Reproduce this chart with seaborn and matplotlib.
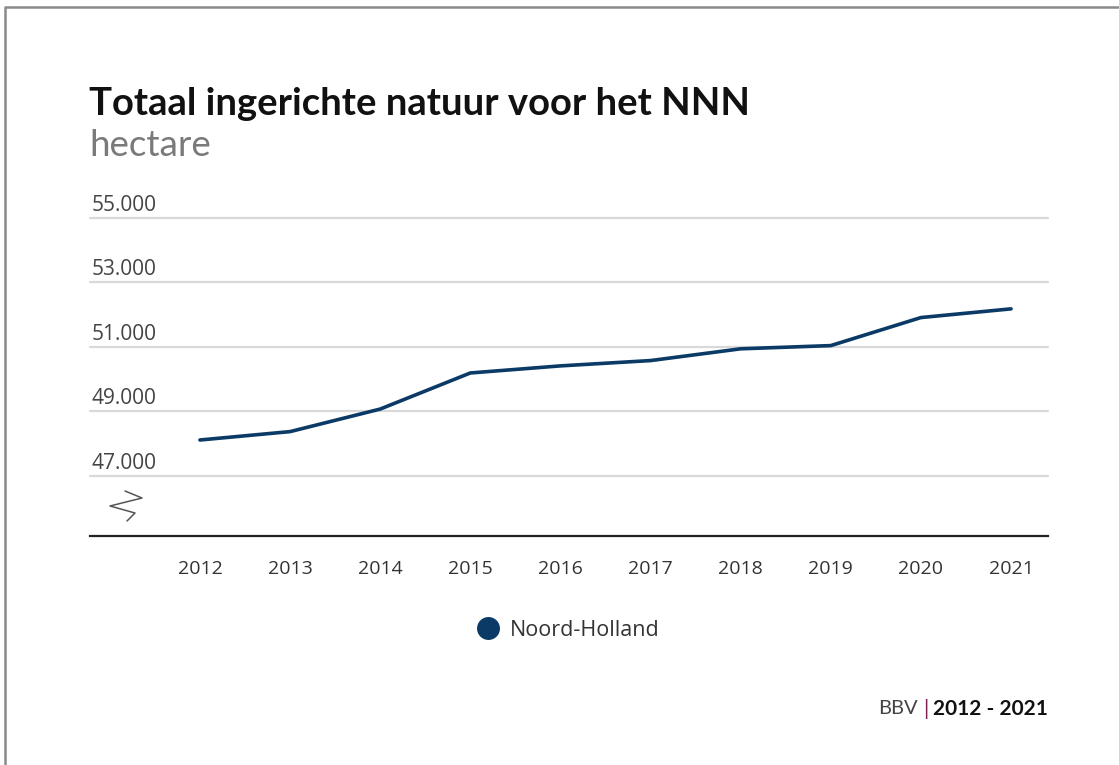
import seaborn as sns
import matplotlib.pyplot as plt
import pandas as pd
from matplotlib.lines import Line2D

# data
years = [2012, 2013, 2014, 2015, 2016, 2017, 2018, 2019, 2020, 2021]
hectare = [48110, 48370, 49070, 50190, 50410, 50575, 50940, 51040, 51910, 52180]
region = "Noord-Holland"
y_ticks = [47000, 49000, 51000, 53000, 55000]

df = pd.DataFrame({"jaar": years, "hectare": hectare})

navy = "#0b3a66"

sns.set_style("white")
plt.rcParams["font.family"] = ["Open Sans", "DejaVu Sans"]

fig = plt.figure(figsize=(11.19, 7.65), dpi=100)
ax = fig.add_axes([90 / 1119, 1 - 536 / 765, (1048 - 90) / 1119, (536 - 218) / 765])

sns.lineplot(data=df, x="jaar", y="hectare", ax=ax, color=navy, linewidth=2.6, legend=False)

ax.set_xlim(2010.78, 2021.41)
ax.set_ylim(45130, 55000)
ax.set_xticks(years)
ax.set_xticklabels([str(y) for y in years], fontsize=14, color="#333333")
ax.set_yticks(y_ticks)
ax.set_yticklabels([])
ax.tick_params(axis="both", length=0)
ax.tick_params(axis="x", pad=17)
ax.set_xlabel("")
ax.set_ylabel("")

for v in y_ticks:
    ax.axhline(v, color="#d9d9d9", linewidth=1.6, zorder=0, clip_on=False)
    ax.annotate(f"{v:,}".replace(",", "."), xy=(0, v), xycoords=("axes fraction", "data"),
                xytext=(2, 2), textcoords="offset pixels", ha="left", va="bottom",
                fontsize=15, color="#444444")

for side in ["top", "right", "left"]:
    ax.spines[side].set_visible(False)
ax.spines["bottom"].set_color("#222222")
ax.spines["bottom"].set_linewidth(1.6)

# axis break symbol
zx = [125, 142, 110, 135, 127]
zy = [491, 498, 506, 513, 521]
fig.add_artist(Line2D([x / 1119 for x in zx], [1 - y / 765 for y in zy],
                      color="#555555", linewidth=1.1))

# title and subtitle
fig.text(89 / 1119, 1 - 104 / 765, "Totaal ingerichte natuur voor het NNN",
         fontsize=27.5, fontweight="bold", color="#111111", va="center",
         family=["Lato", "DejaVu Sans"])
fig.text(89 / 1119, 1 - 146 / 765, "hectare", fontsize=26.5,
         color="#7a7a7a", va="center", family=["Lato", "DejaVu Sans"])

# legend
handle = Line2D([], [], marker="o", linestyle="", markersize=15.5, color=navy)
fig.legend([handle], [region], loc="center", bbox_to_anchor=(563 / 1119, 1 - 630 / 765),
           frameon=False, fontsize=15.5, handletextpad=0.0, labelcolor="#333333",
           borderaxespad=0)

# footer
t = fig.text(1048 / 1119, 1 - 709 / 765, "2012 - 2021", ha="right", va="center",
             fontsize=15, fontweight="bold", color="#111111",
             family=["Lato", "DejaVu Sans"])
fig.canvas.draw()
bb = t.get_window_extent()
fig.text((bb.x0 - 5) / 1119, 1 - 709 / 765, "|", ha="right", va="center",
         fontsize=15, color="#7a1f4f", family=["Lato", "DejaVu Sans"])
fig.text((bb.x0 - 15) / 1119, 1 - 709 / 765, "BBV", ha="right", va="center",
         fontsize=14.5, color="#444444", family=["Lato", "DejaVu Sans"])

# outer frame (top and left edges)
fig.add_artist(Line2D([5 / 1119, 5 / 1119, 1], [0, 1 - 7 / 765, 1 - 7 / 765],
                      color="#8a8a8a", linewidth=1.8))

fig.savefig("out.png", dpi=100)
